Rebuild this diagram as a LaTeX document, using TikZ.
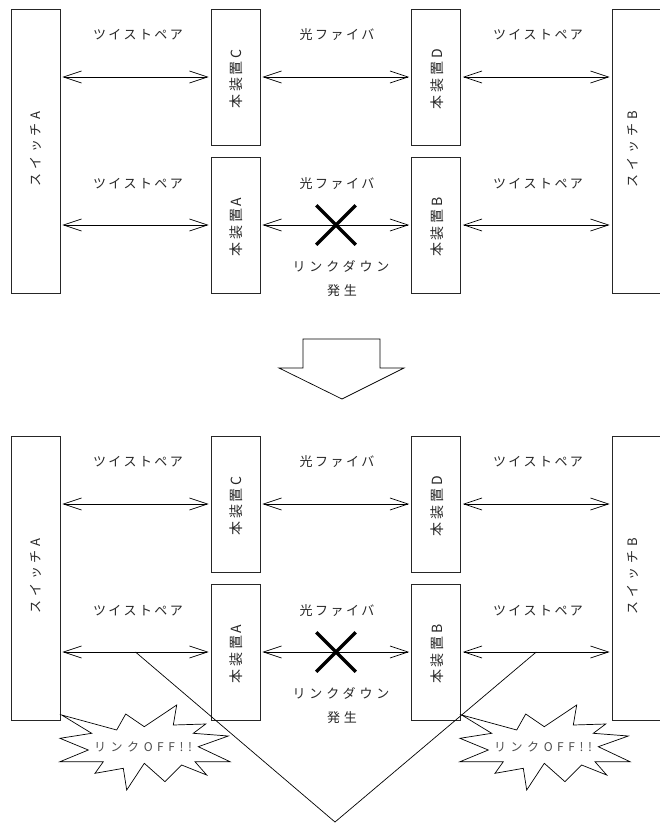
\documentclass[tikz,border=0pt]{standalone}
\usepackage{fontspec}
\newfontfamily\jp{Noto Sans CJK JP}
\usetikzlibrary{arrows.meta,shapes.misc}
\tikzset{
  box/.style={draw=black!85,line width=0.8pt,inner sep=0pt,minimum width=49pt},
  swbox/.style={box,minimum height=284pt},
  devbox/.style={box,minimum height=136pt},
  lbl/.style={font=\jp\fontsize{13}{15}\selectfont\addfontfeature{LetterSpace=19},inner sep=0pt,text=black!85},
  devtxt/.style={rotate=90,font=\jp\fontsize{14}{16}\selectfont\addfontfeature{LetterSpace=20},inner sep=0pt,text=black!85},
  swtxt/.style={rotate=90,font=\jp\fontsize{13}{15}\selectfont\addfontfeature{LetterSpace=30},inner sep=0pt,text=black!85},
  downtxt/.style={font=\jp\fontsize{13}{17}\selectfont\addfontfeature{LetterSpace=30},inner sep=0pt,align=center,text=black!85},
  bursttxt/.style={font=\jp\fontsize{12}{14}\selectfont\addfontfeature{LetterSpace=38},inner sep=0pt,text=black!70},
  dbl/.style={{Straight Barb[length=18pt,width=12pt]}-{Straight Barb[length=18pt,width=12pt]},line width=0.7pt,shorten >=2pt,shorten <=2pt},
  xmark/.style={cross out,draw=black,line width=3.5pt,minimum size=36pt,inner sep=0pt},
  thin/.style={line width=0.7pt,draw=black},
  burst/.style={line width=0.7pt,draw=black,fill=white}
}
\newcommand\netpanel[1]{%
  \node[swbox] (#1swA) at (35.5,151) {};
  \node[devbox] (#1devC) at (235.5,77) {};
  \node[devbox] (#1devA) at (235.5,225) {};
  \node[devbox] (#1devD) at (436,77) {};
  \node[devbox] (#1devB) at (436,225) {};
  \node[swbox] (#1swB) at (636.5,151) {};
  \node[swtxt] (#1tswA) at (36,149) {スイッチA};
  \node[swtxt] (#1tswB) at (633,149) {スイッチB};
  \node[devtxt] (#1tdevC) at (236,79) {本装置C};
  \node[devtxt] (#1tdevA) at (236,227) {本装置A};
  \node[devtxt] (#1tdevD) at (437,79) {本装置D};
  \node[devtxt] (#1tdevB) at (437,227) {本装置B};
  \draw[dbl] (#1swA.east |- #1devC) -- (#1devC.west);
  \draw[dbl] (#1devC.east) -- (#1devD.west);
  \draw[dbl] (#1devD.east) -- (#1swB.west |- #1devD);
  \draw[dbl] (#1swA.east |- #1devA) -- (#1devA.west) coordinate[midway] (#1mL);
  \draw[dbl] (#1devA.east) -- (#1devB.west);
  \draw[dbl] (#1devB.east) -- (#1swB.west |- #1devB) coordinate[midway] (#1mR);
  \node[lbl] (#1l1) at (138,35) {ツイストペア};
  \node[lbl] (#1l2) at (337,35) {光ファイバ};
  \node[lbl] (#1l3) at (538,35) {ツイストペア};
  \node[lbl] (#1l4) at (138,184) {ツイストペア};
  \node[lbl] (#1l5) at (337,184) {光ファイバ};
  \node[lbl] (#1l6) at (538,184) {ツイストペア};
  \node[xmark] (#1x) at (336,225) {};
  \node[downtxt] (#1down) at (341,266) {リンクダウン};
  \node[downtxt] (#1hassei) at (342,291) {発生};
}
\newcommand\burstshape{%
  (61.7,715) -- (116.7,730) -- (125.7,714) -- (144.3,726.7) -- (176.7,705) --
  (173.3,725) -- (205.7,724) -- (193.3,733.3) -- (228.3,736) -- (198.3,746.7) --
  (230,761.7) -- (195,761.7) -- (206.7,775) -- (181.7,765) -- (165,781.7) --
  (144.3,763.3) -- (126.7,790) -- (123.3,768.3) -- (95,773.3) -- (103.3,761.7) --
  (60,761.7) -- (88.3,750) -- (60,738.3) -- (91.7,733.3) -- cycle}
\begin{document}
\begin{tikzpicture}[x=1pt,y=-1pt]
  \useasboundingbox (0,0) rectangle (660,825);
  \netpanel{t}
  % block arrow
  \draw[thin] (303,368) -- (303,339) -- (380,339) -- (380,368) -- (404,368)
     -- (342,399) -- (279,368) -- cycle;
  \begin{scope}[shift={(0,427)}]
    \netpanel{b}
  \end{scope}
  % bursts
  \draw[burst] \burstshape;
  \node[bursttxt] (bt1) at (143,747) {リンクOFF!!};
  \begin{scope}[xshift=400pt]
    \draw[burst] \burstshape;
    \node[bursttxt] (bt2) at (143,747) {リンクOFF!!};
  \end{scope}
  % V line
  \coordinate (vtip) at (335,822);
  \draw[thin] (bmL) -- (vtip) -- (bmR);
\end{tikzpicture}
\end{document}
